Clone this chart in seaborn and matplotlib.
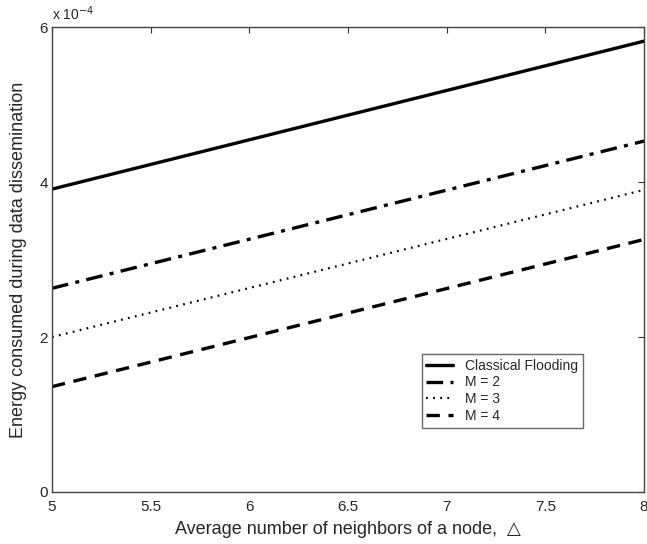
import matplotlib
matplotlib.use("Agg")
import matplotlib.pyplot as plt
import seaborn as sns
import pandas as pd
from matplotlib.ticker import FuncFormatter

x_vals = [5.0, 8.0]
classical = [3.91e-4, 5.82e-4]
m2 = [2.63e-4, 4.53e-4]
m3 = [2.00e-4, 3.90e-4]
m4 = [1.36e-4, 3.26e-4]
series_names = ["Classical Flooding", "M = 2", "M = 3", "M = 4"]
x_ticks = [5, 5.5, 6, 6.5, 7, 7.5, 8]
y_ticks = [0, 2e-4, 4e-4, 6e-4]

sns.set_style("white")
plt.rcParams["font.family"] = ["Liberation Sans", "DejaVu Sans"]

fig = plt.figure(figsize=(6.47, 5.44), dpi=100)
ax = fig.add_axes([0.0804, 0.0956, 0.915, 0.8544])

styles = [
    dict(linestyle="-", linewidth=2.4),
    dict(linestyle=(0, (5, 2.2, 1.2, 2.2)), linewidth=2.4),
    dict(linestyle=(0, (0.8, 2.4)), linewidth=1.6),
    dict(linestyle=(0, (4, 2.6)), linewidth=2.4),
]
for name, vals, st in zip(series_names, [classical, m2, m3, m4], styles):
    df = pd.DataFrame({"x": x_vals, "y": vals})
    sns.lineplot(data=df, x="x", y="y", ax=ax, color="black", label=name, **st)

ax.set_xlim(5, 8)
ax.set_ylim(0, 6e-4)
ax.set_xticks(x_ticks)
ax.set_yticks(y_ticks)
ax.xaxis.set_major_formatter(FuncFormatter(lambda v, p: f"{v:g}"))
ax.yaxis.set_major_formatter(FuncFormatter(lambda v, p: f"{v*1e4:g}"))
ax.tick_params(direction="in", length=4, width=0.8, top=True, right=True,
               labelsize=11, color="#333333")
ax.tick_params(axis="x", pad=6)
ax.tick_params(axis="y", pad=3)
for s in ax.spines.values():
    s.set_color("#444444")
    s.set_linewidth(1.0)

ax.text(0.0, 1.008, r"x 10$^{-4}$", transform=ax.transAxes, fontsize=10,
        ha="left", va="bottom")

ax.set_xlabel("Average number of neighbors of a node,  \u25b3", fontsize=13, labelpad=5)
ax.set_ylabel("Energy consumed during data dissemination", fontsize=13, labelpad=9)

leg = ax.legend(loc="lower right", bbox_to_anchor=(0.909, 0.123), fontsize=10,
                frameon=True, fancybox=False, handlelength=1.9, borderpad=0.35,
                labelspacing=0.2, handletextpad=0.9)
leg.get_frame().set_edgecolor("#444444")
leg.get_frame().set_linewidth(1.0)

fig.savefig("out.png", dpi=100)
